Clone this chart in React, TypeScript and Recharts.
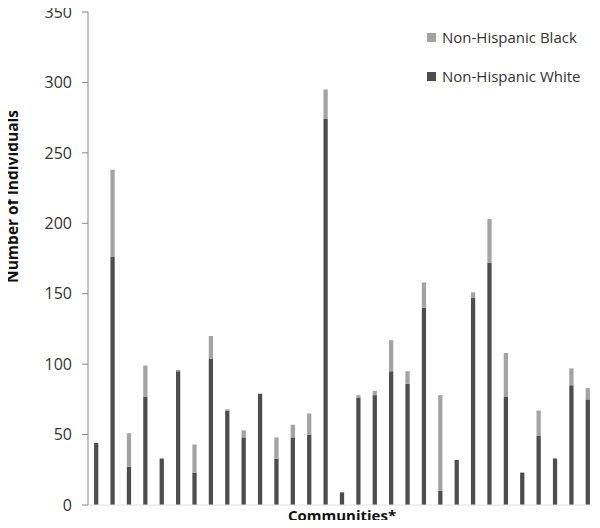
import React from 'react';
import { BarChart, Bar, XAxis, YAxis } from 'recharts';

// 31 communities, no names shown on the axis
const communities = Array.from({ length: 31 }, (_, i) => `C${i + 1}`);

const whiteCounts = [
  44, 176, 27, 77, 33, 95, 23, 104, 67, 48, 79, 33, 48, 50, 274, 9,
  76, 78, 95, 86, 140, 10, 32, 147, 172, 77, 23, 49, 33, 85, 75,
];
const blackCounts = [
  0, 62, 24, 22, 0, 1, 20, 16, 1, 5, 0, 15, 9, 15, 21, 0,
  2, 3, 22, 9, 18, 68, 0, 4, 31, 31, 0, 18, 0, 12, 8,
];
const yTicks = [0, 50, 100, 150, 200, 250, 300, 350];

const WHITE_COLOR = '#4d4d4d';
const BLACK_COLOR = '#a3a3a3';
const FONT = '"Open Sans", sans-serif';

const legendItems = [
  { label: 'Non-Hispanic Black', color: BLACK_COLOR },
  { label: 'Non-Hispanic White', color: WHITE_COLOR },
];

const data = communities.map((name, i) => ({
  name,
  white: whiteCounts[i],
  black: blackCounts[i],
}));

const titleStyle = { fontFamily: FONT, fontWeight: 700, fill: '#111' };

const YLabel = (props: any) => {
  const { viewBox } = props;
  const cy = viewBox.y + viewBox.height / 2 - 62;
  const cx = 12;
  return (
    <text
      x={cx}
      y={cy}
      transform={`rotate(-90 ${cx} ${cy})`}
      textAnchor="middle"
      dominantBaseline="central"
      style={{ ...titleStyle, fontSize: 15.5 }}
    >
      Number of Individuals
    </text>
  );
};

const XLabel = (props: any) => {
  const { viewBox } = props;
  return (
    <text
      x={viewBox.x + viewBox.width / 2}
      y={viewBox.y + 10}
      textAnchor="middle"
      dominantBaseline="central"
      style={{ ...titleStyle, fontSize: 15 }}
    >
      Communities*
    </text>
  );
};

const App: React.FC = () => {
  return (
    <div style={{ margin: -8, width: 600, height: 528, background: '#fff', position: 'relative' }}>
      <BarChart
        width={600}
        height={528}
        data={data}
        margin={{ top: 12, right: 4, bottom: 0, left: 0 }}
        barCategoryGap="63%"
      >
        <XAxis
          dataKey="name"
          tick={false}
          tickLine={false}
          axisLine={{ stroke: '#e0e0e0' }}
          height={23}
          label={<XLabel />}
        />
        <YAxis
          domain={[0, 350]}
          ticks={yTicks}
          width={88}
          tickSize={6}
          tickMargin={10}
          axisLine={{ stroke: '#868686' }}
          tickLine={{ stroke: '#868686' }}
          tick={{ fontFamily: FONT, fontSize: 16, fill: '#333' }}
          label={<YLabel />}
        />
        <Bar dataKey="white" stackId="a" fill={WHITE_COLOR} isAnimationActive={false} />
        <Bar dataKey="black" stackId="a" fill={BLACK_COLOR} isAnimationActive={false} />
      </BarChart>
      <div
        style={{
          position: 'absolute',
          left: 427,
          top: 27,
          fontFamily: FONT,
          fontSize: 15,
          color: '#333',
        }}
      >
        {legendItems.map(item => (
          <div key={item.label} style={{ display: 'flex', alignItems: 'center', height: 20, marginBottom: 19 }}>
            <span style={{ width: 9, height: 9, background: item.color, marginRight: 6, display: 'inline-block' }} />
            <span>{item.label}</span>
          </div>
        ))}
      </div>
    </div>
  );
};

export default App;
